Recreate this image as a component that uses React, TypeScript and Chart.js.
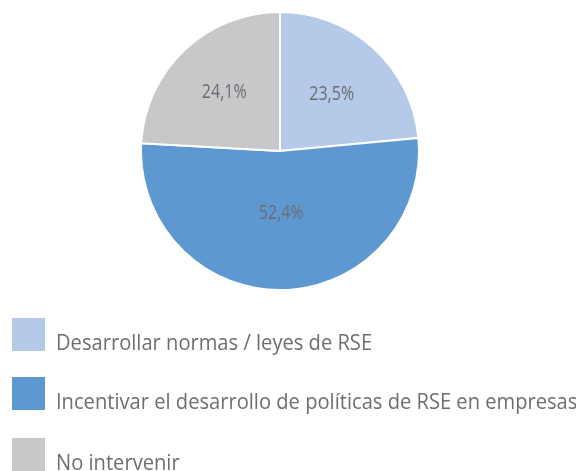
import React, { useEffect, useRef } from "react";
import { Chart, registerables } from "chart.js";

Chart.register(...registerables);

const categories = [
  "Desarrollar normas / leyes de RSE",
  "Incentivar el desarrollo de políticas de RSE en empresas",
  "No intervenir",
];
const values = [23.5, 52.4, 24.1];
const valueLabels = ["23,5%", "52,4%", "24,1%"];
const colors = ["#b4cae8", "#5e98d0", "#c7c8ca"];
const labelRadiusFactors = [0.553, 0.446, 0.584];
const legendTops = [318, 377, 438];

const W = 576;
const H = 471;

const sliceLabelPlugin = {
  id: "sliceLabels",
  afterDatasetsDraw(chart: any) {
    const ctx = chart.ctx;
    const meta = chart.getDatasetMeta(0);
    meta.data.forEach((arc: any, i: number) => {
      const p = arc.getProps(["x", "y", "startAngle", "endAngle", "outerRadius"], true);
      const mid = (p.startAngle + p.endAngle) / 2;
      const r = p.outerRadius * labelRadiusFactors[i];
      ctx.save();
      ctx.translate(p.x + Math.cos(mid) * r, p.y + Math.sin(mid) * r);
      ctx.scale(0.8, 1);
      ctx.fillStyle = "#6b6c6f";
      ctx.textAlign = "center";
      ctx.textBaseline = "middle";
      ctx.font = "20px 'Open Sans', sans-serif";
      ctx.fillText(valueLabels[i], 0, 0);
      ctx.restore();
    });
  },
};

const legendPlugin = {
  id: "customLegend",
  afterDraw(chart: any) {
    const ctx = chart.ctx;
    const bg = chart.data.datasets[0].backgroundColor as string[];
    chart.data.labels.forEach((lab: string, i: number) => {
      const top = legendTops[i];
      ctx.save();
      ctx.fillStyle = bg[i];
      ctx.fillRect(12, top, 33, 33);
      ctx.translate(56, top + 32);
      ctx.scale(0.915, 1);
      ctx.fillStyle = "#6d6e71";
      ctx.textAlign = "left";
      ctx.textBaseline = "alphabetic";
      ctx.font = "22px 'Open Sans', sans-serif";
      ctx.fillText(lab, 0, 0);
      ctx.restore();
    });
  },
};

export default function App() {
  const ref = useRef<HTMLCanvasElement | null>(null);
  useEffect(() => {
    document.body.style.margin = "0";
    const chart = new Chart(ref.current as HTMLCanvasElement, {
      type: "pie",
      data: {
        labels: categories,
        datasets: [
          {
            data: values,
            backgroundColor: colors,
            borderColor: "#ffffff",
            borderWidth: 2,
            hoverOffset: 0,
          },
        ],
      },
      options: {
        responsive: false,
        animation: false,
        layout: { padding: { top: 11, bottom: 180, left: 0, right: 16 } },
        plugins: { legend: { display: false }, tooltip: { enabled: false } },
      },
      plugins: [sliceLabelPlugin, legendPlugin],
    });
    return () => chart.destroy();
  }, []);
  return (
    <div style={{ width: W, height: H, position: "relative" }}>
      <canvas ref={ref} width={W} height={H} style={{ width: W, height: H, display: "block" }} />
    </div>
  );
}
